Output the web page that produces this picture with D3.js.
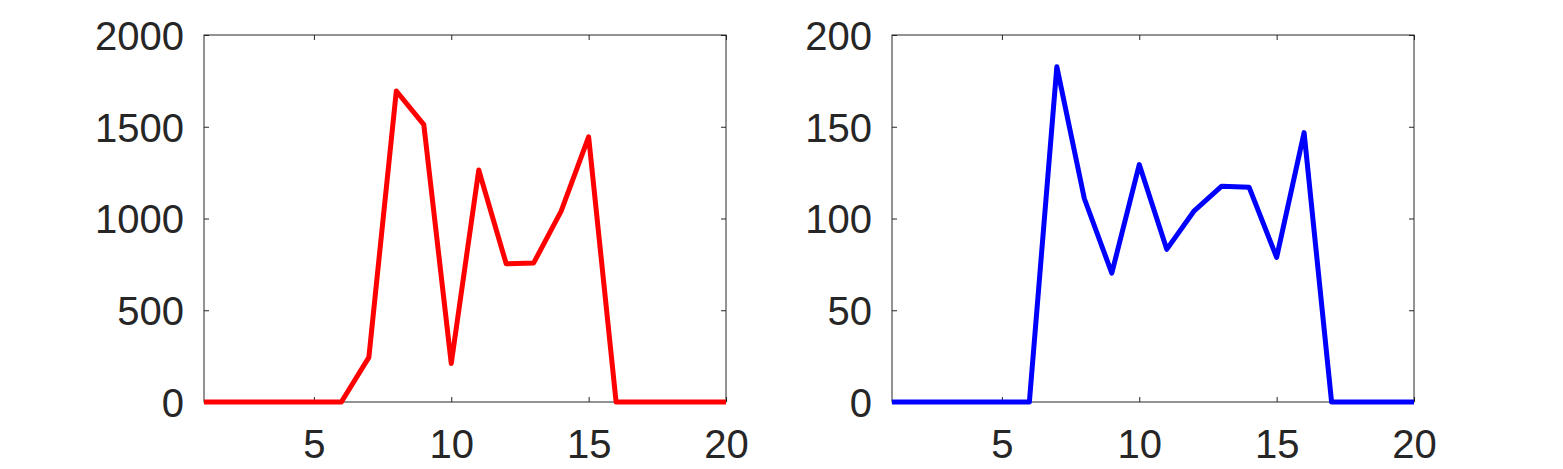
<!DOCTYPE html>
<meta charset="utf-8">
<head>
    <script src="https://d3js.org/d3.v7.min.js"></script>
    <style>
        body { margin: 0; background: #fff; }
        .tick text { font: 40px "Liberation Sans", Arial, sans-serif; fill: #262626; }
        .tick line { stroke: #262626; }
        .domain { stroke: none; }
    </style>
</head>
<body>
<div id="graph"></div>
<script>
    // data
    var xs = [1, 2, 3, 4, 5, 6, 7, 8, 9, 10, 11, 12, 13, 14, 15, 16, 17, 18, 19, 20];
    var redValues = [0, 0, 0, 0, 0, 0, 243, 1695, 1512, 210, 1264, 753, 758, 1040, 1445, 0, 0, 0, 0, 0];
    var blueValues = [0, 0, 0, 0, 0, 0, 182.7, 110.9, 70.2, 129.4, 83.2, 104.2, 117.6, 117.0, 78.8, 146.8, 0, 0, 0, 0];
    var xTicks = [5, 10, 15, 20];
    var redTicks = [0, 500, 1000, 1500, 2000];
    var blueTicks = [0, 50, 100, 150, 200];

    var W = 1563, H = 469;
    var svg = d3.select("#graph").append("svg")
        .attr("width", W)
        .attr("height", H);

    function drawPanel(left, values, yMax, yTicks, color) {
        var top = 35, width = 522, height = 367;
        var g = svg.append("g").attr("transform", "translate(" + left + "," + top + ")");

        var x = d3.scaleLinear().domain([1, 20]).range([0, width]);
        var y = d3.scaleLinear().domain([0, yMax]).range([height, 0]);

        // bottom axis with labels, ticks pointing inwards
        var bottom = g.append("g")
            .attr("transform", "translate(0," + height + ")")
            .call(d3.axisBottom(x).tickValues(xTicks).tickSize(-5).tickPadding(28).tickFormat(d3.format("d")));
        bottom.selectAll("text").attr("dy", "0.71em");
        // top ticks only
        g.append("g")
            .call(d3.axisTop(x).tickValues(xTicks).tickSize(-5).tickFormat(""));
        // left axis with labels
        var leftAx = g.append("g")
            .call(d3.axisLeft(y).tickValues(yTicks).tickSize(-5).tickPadding(20).tickFormat(d3.format("d")));
        leftAx.selectAll("text").attr("dy", "0.36em");
        // right ticks only
        g.append("g")
            .attr("transform", "translate(" + width + ",0)")
            .call(d3.axisRight(y).tickValues(yTicks).tickSize(-5).tickFormat(""));

        // box
        g.append("rect")
            .attr("width", width)
            .attr("height", height)
            .attr("fill", "none")
            .attr("stroke", "#262626")
            .attr("stroke-width", 1);

        var line = d3.line()
            .x(function(d, i) { return x(xs[i]); })
            .y(function(d) { return y(d); });

        g.append("path")
            .datum(values)
            .attr("d", line)
            .attr("fill", "none")
            .attr("stroke", color)
            .attr("stroke-width", 5)
            .attr("stroke-linejoin", "round");
    }

    drawPanel(204, redValues, 2000, redTicks, "#ff0000");
    drawPanel(892, blueValues, 200, blueTicks, "#0000ff");
</script>
</body>
